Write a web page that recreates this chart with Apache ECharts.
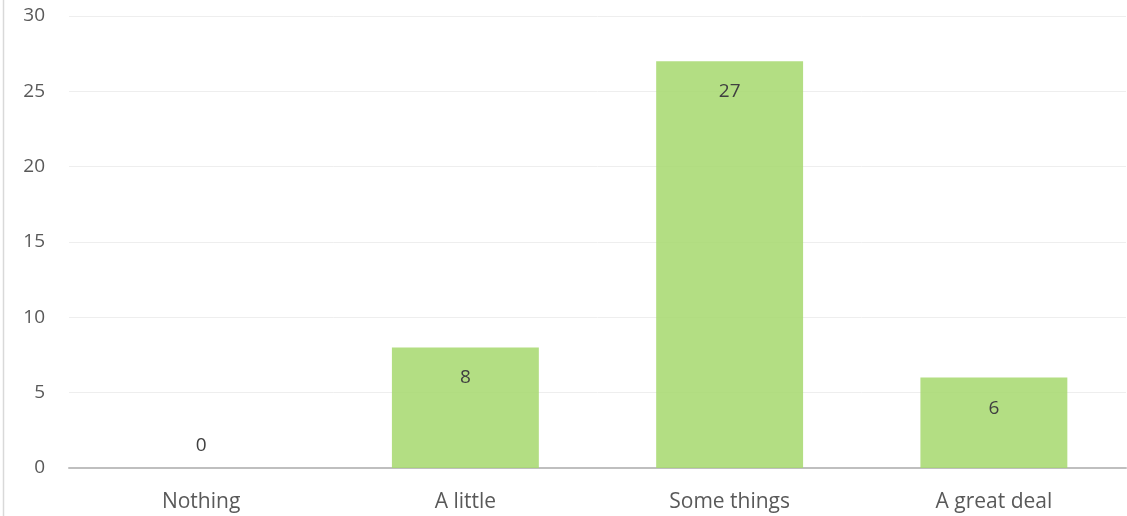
<!DOCTYPE html>
<html>
<head>
<meta charset="utf-8">
<script src="https://cdn.jsdelivr.net/npm/echarts@6/dist/echarts.min.js"></script>
<style>
html,body{margin:0;padding:0;background:#fff;}
#chart{width:1127px;height:516px;}
</style>
</head>
<body>
<div id="chart"></div>
<script>
var categories = ['Nothing', 'A little', 'Some things', 'A great deal'];
var values = [0, 8, 27, 6];
var yTicks = [0, 5, 10, 15, 20, 25, 30];

var chart = echarts.init(document.getElementById('chart'), null, {renderer: 'canvas'});
var fontFamily = '"Open Sans", "Noto Sans", sans-serif';
var seriesData = values.map(function (v) {
  var d = {value: v};
  if (v === 0) {
    d.label = {position: 'top', distance: 13};
  }
  return d;
});
chart.setOption({
  animation: false,
  graphic: [{
    type: 'line',
    shape: {x1: 3.5, y1: 0, x2: 3.5, y2: 516},
    style: {stroke: '#d9d9d9', lineWidth: 1.5}
  }],
  grid: {left: 69, right: 1, top: 16, bottom: 48, containLabel: false},
  xAxis: {
    type: 'category',
    data: categories,
    axisLine: {lineStyle: {color: '#bfbfbf', width: 2}},
    axisTick: {show: false},
    axisLabel: {color: '#595959', fontSize: 21, fontFamily: fontFamily, margin: 24}
  },
  yAxis: {
    type: 'value',
    min: yTicks[0],
    max: yTicks[yTicks.length - 1],
    interval: 5,
    axisLine: {show: false},
    axisTick: {show: false},
    axisLabel: {color: '#595959', fontSize: 19, fontFamily: fontFamily, margin: 24},
    splitLine: {lineStyle: {color: '#eeeeee', width: 1}}
  },
  series: [{
    type: 'bar',
    data: seriesData,
    barWidth: '55.6%',
    itemStyle: {color: 'rgba(166,217,111,0.86)'},
    label: {
      show: true,
      position: 'insideTop',
      distance: 21,
      color: '#404040',
      fontSize: 19,
      fontFamily: fontFamily
    }
  }]
});
</script>
</body>
</html>
